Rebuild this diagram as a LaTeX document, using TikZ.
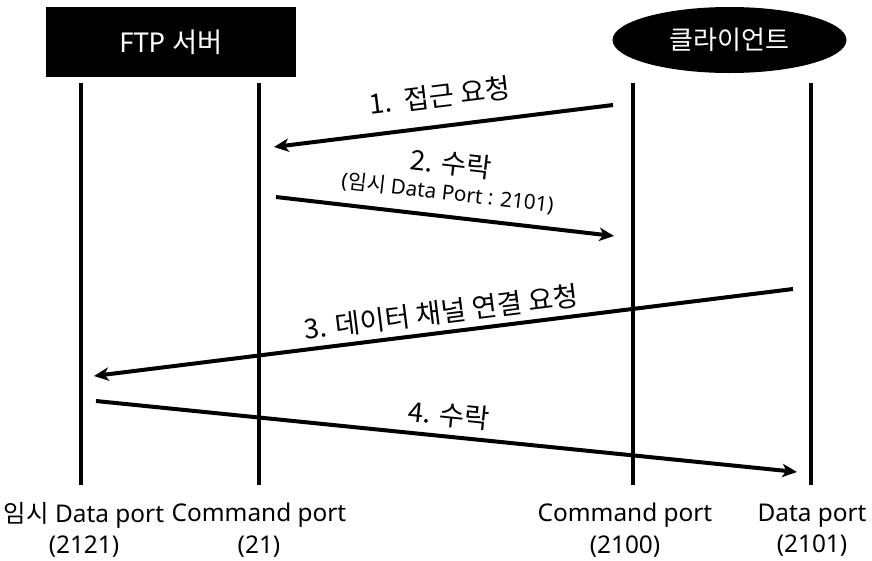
\documentclass[tikz,border=0pt]{standalone}
\usepackage{fontspec}
\setmainfont{Noto Sans}
\newfontfamily\ko{Noto Sans CJK KR}
\usetikzlibrary{arrows.meta,shapes.geometric}
\begin{document}
\begin{tikzpicture}[x=0.75pt,y=-0.75pt,
  lifeline/.style={line width=3pt},
  msg/.style={line width=3pt,-{Stealth[length=11pt,width=10pt,inset=3pt]}},
  txt/.style={font=\ko\fontsize{20.5}{24}\selectfont,inner sep=0pt},
  smalltxt/.style={font=\fontsize{15.5}{18}\selectfont,inner sep=0pt},
  ports/.style={inner sep=0pt,align=center,font=\fontsize{18.3}{23.5}\selectfont},
]
\useasboundingbox[fill=white] (0,0) rectangle (872,561);
\node[fill=black,text=white,minimum width=187.5pt,minimum height=52.5pt,inner sep=0pt,font=\fontsize{20.5}{24}\selectfont] (server) at (171,42) {FTP {\ko 서버}};
\node[ellipse,fill=black,text=white,minimum width=175.5pt,minimum height=49.5pt,inner sep=0pt,font=\fontsize{19.5}{22}\selectfont] (client) at (729.5,40) {\ko 클라이언트};
% lifelines
\coordinate (L1t) at (81,83);  \coordinate (L1b) at (81,485);
\coordinate (L2t) at (259,83); \coordinate (L2b) at (259,485);
\coordinate (L3t) at (633,83); \coordinate (L3b) at (633,485);
\coordinate (L4t) at (811,83); \coordinate (L4b) at (811,485);
\draw[lifeline] (L1t) -- (L1b);
\draw[lifeline] (L2t) -- (L2b);
\draw[lifeline] (L3t) -- (L3b);
\draw[lifeline] (L4t) -- (L4b);
% message end points
\coordinate (a1s) at (613,105); \coordinate (a1e) at (274,147);
\coordinate (a2s) at (276,197); \coordinate (a2e) at (614,236);
\coordinate (a3s) at (793,289); \coordinate (a3e) at (94,376);
\coordinate (a4s) at (96,401);  \coordinate (a4e) at (797,472);
\draw[msg] (a1s) -- node[txt,sloped,above=12pt] (m1) {1.~~접근 요청} (a1e);
\draw[msg] (a2s) -- node[smalltxt,sloped,above=8.5pt] (m2b) {({\ko 임시} Data Port : 2101)}
                    node[txt,sloped,above=29pt] (m2) {2. 수락} (a2e);
\draw[msg] (a3s) -- node[txt,sloped,above=4.5pt] (m3) {3. 데이터 채널 연결 요청} (a3e);
\draw[msg] (a4s) -- node[txt,sloped,above=5.5pt] (m4) {4. 수락} (a4e);
% port labels
\node[ports] (p1) at (84,530) {{\ko 임시} Data port\\(2121)};
\node[ports] (p2) at (259,530) {Command port\\(21)};
\node[ports] (p3) at (625,530) {Command port\\(2100)};
\node[ports] (p4) at (812,530) {Data port\\(2101)};
\end{tikzpicture}
\end{document}
